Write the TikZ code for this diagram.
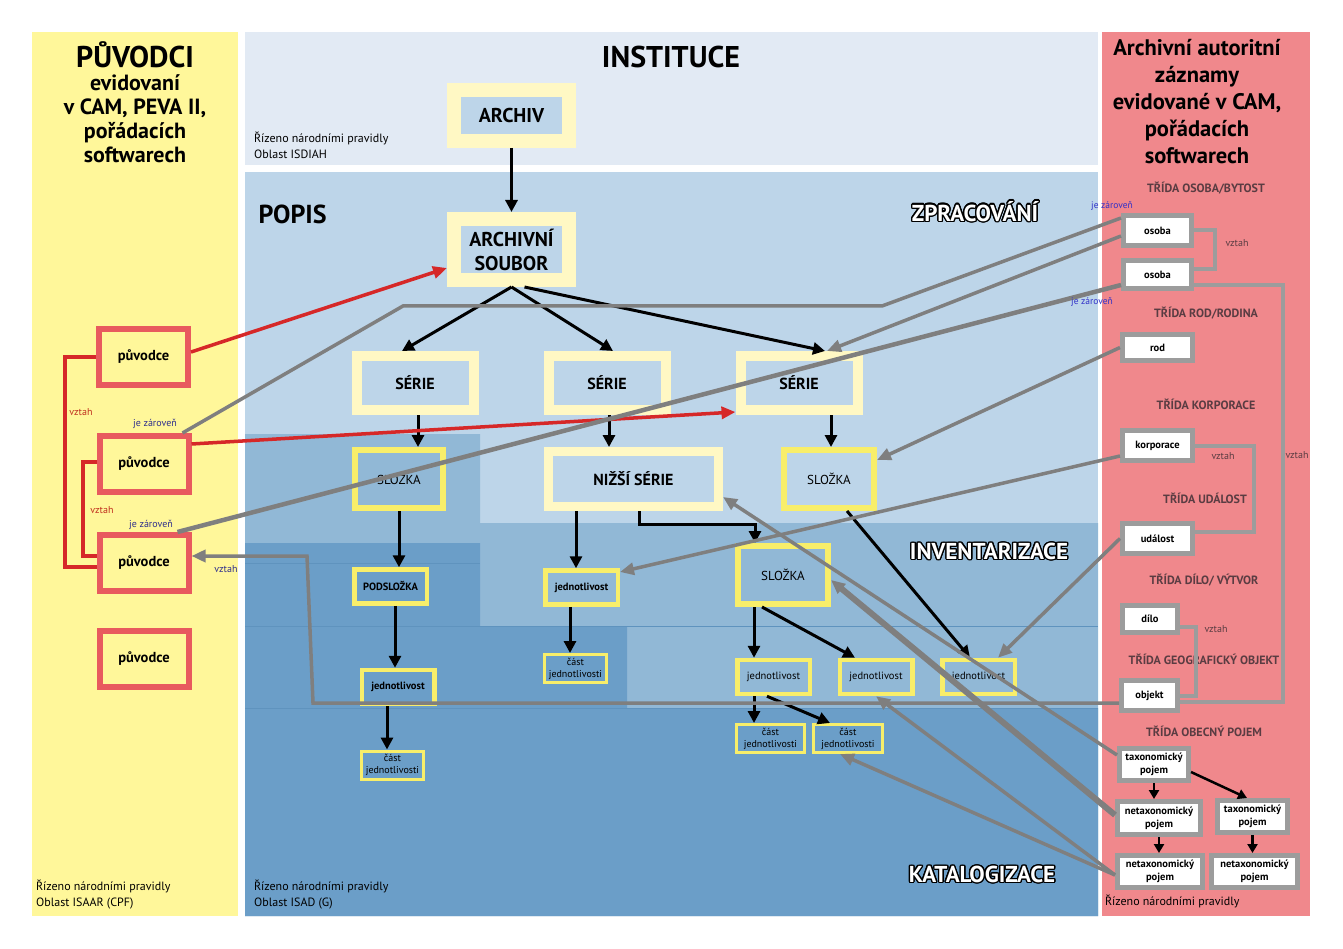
\documentclass[tikz,border=0pt]{standalone}
\usepackage{fontspec}
\setmainfont{PT Sans}
\usepackage{contour}
\usetikzlibrary{arrows.meta}
\contourlength{1.3pt}

\definecolor{instbg}{HTML}{E2EAF4}
\definecolor{popisbg}{HTML}{BDD5E9}
\definecolor{midblue}{HTML}{91B8D6}
\definecolor{darkblue}{HTML}{6B9EC8}
\definecolor{zoneedge}{HTML}{5F93BE}
\definecolor{yellowbg}{HTML}{FFF79A}
\definecolor{pinkbg}{HTML}{F0888C}
\definecolor{cream}{HTML}{FFF8C4}
\definecolor{brightyellow}{HTML}{F8EE6A}
\definecolor{puvframe}{HTML}{E85A5E}
\definecolor{redline}{HTML}{D62828}
\definecolor{grayline}{HTML}{7F7F7F}
\definecolor{grayframe}{HTML}{9C9C9C}
\definecolor{classtext}{HTML}{5A3C42}
\definecolor{relblue}{HTML}{2F2F8C}
\definecolor{isblue}{HTML}{3030C8}
\definecolor{relred}{HTML}{C0301E}

\tikzset{
  bigtitle/.style={font=\bfseries\fontsize{30}{32}\selectfont},
  subtitle/.style={font=\bfseries\fontsize{22}{24}\selectfont, align=center},
  aartitle/.style={font=\bfseries\fontsize{22.5}{27}\selectfont, align=center},
  note/.style={font=\fontsize{12}{14}\selectfont, anchor=base west, inner sep=0},
  zonelabel/.style={font=\bfseries\fontsize{23}{25}\selectfont, text=white},
  classlabel/.style={font=\bfseries\fontsize{12}{14}\selectfont, text=classtext},
  bigbox/.style={draw=cream, line width=14pt, fill=popisbg, inner sep=0,
    align=center, font=\bfseries\fontsize{20}{24}\selectfont},
  seriebox/.style={draw=cream, line width=10pt, inner sep=0,
    font=\bfseries\fontsize{16}{18}\selectfont},
  slozkabox/.style={draw=brightyellow, line width=6pt, inner sep=0,
    font=\fontsize{13}{15}\selectfont},
  itembox/.style={draw=brightyellow, line width=4.5pt, inner sep=0,
    minimum width=72.5, minimum height=34, font=\bfseries\fontsize{10.5}{12}\selectfont},
  partbox/.style={draw=brightyellow, line width=3pt, inner sep=0, align=center,
    minimum height=28, font=\fontsize{10}{12}\selectfont},
  puvbox/.style={draw=puvframe, line width=6pt, fill=yellowbg, inner sep=0,
    minimum width=89, minimum height=56, font=\bfseries\fontsize{14.5}{16}\selectfont},
  aarbox/.style={draw=grayframe, line width=5pt, fill=white, inner sep=0, align=center,
    font=\bfseries\fontsize{10.5}{13}\selectfont},
  tree/.style={draw=black, line width=3pt, -{Triangle[length=12pt,width=12pt]}},
  smalltree/.style={tree, line width=2.5pt, -{Triangle[length=9pt,width=10pt]}},
  origin/.style={draw=redline, line width=3.5pt, -{Triangle[length=14pt,width=12pt]}},
  link/.style={draw=grayline, line width=3.5pt},
  linkarrow/.style={link, -{Triangle[length=14pt,width=12pt]}},
  relation/.style={draw=grayframe, line width=4pt},
  redrelation/.style={draw=redline, line width=4pt},
  rellabel/.style={font=\fontsize{10}{12}\selectfont},
}

\begin{document}
\begin{tikzpicture}[x=1pt,y=-1pt]
	\useasboundingbox (0,0) rectangle (1343,949);
	\fill[white] (0,0) rectangle (1343,949);
	
	% panels
	\fill[yellowbg] (32,32) rectangle (238,916);
	\fill[instbg] (245,32) rectangle (1098,165);
	\fill[popisbg] (245,172) rectangle (1098,916);
	\fill[midblue] (245,434) -- (480,434) -- (480,523) -- (1098,523) -- (1098,916) -- (245,916) -- cycle;
	\fill[darkblue] (245,543) -- (480,543) -- (480,626) -- (627,626) -- (627,708) -- (1098,708) -- (1098,916) -- (245,916) -- cycle;
	\draw[zoneedge, line width=0.6pt] (245,563) -- (480,563);
	\draw[zoneedge, line width=0.6pt] (245,626) -- (1098,626);
	\draw[zoneedge, line width=0.6pt] (245,708) -- (1098,708);
	\fill[pinkbg] (1102,32) rectangle (1310,916);
	
	% titles and notes
	\node[bigtitle] (puvtitle) at (135,55) {PŮVODCI};
	\node[subtitle] (puvsub) at (135,119) {evidovaní\\v CAM, PEVA II,\\pořádacích\\softwarech};
	\node[bigtitle] (insttitle) at (671,57) {INSTITUCE};
	\node[bigtitle, font=\bfseries\fontsize{26}{28}\selectfont, anchor=west] (popistitle) at (255,214) {POPIS};
	\node[aartitle] (aarhead) at (1197,102) {Archivní autoritní\\záznamy\\evidované v CAM,\\pořádacích\\softwarech};
	\node[note] (isdiahA) at (254,143) {Řízeno národními pravidly};
	\node[note] (isdiahB) at (254,159) {Oblast ISDIAH};
	\node[note] (isaarA) at (36,890) {Řízeno národními pravidly};
	\node[note] (isaarB) at (36,906) {Oblast ISAAR (CPF)};
	\node[note] (isadA) at (254,890) {Řízeno národními pravidly};
	\node[note] (isadB) at (254,906) {Oblast ISAD (G)};
	\node[note] (aarnote) at (1105,905) {Řízeno národními pravidly};
	\node[zonelabel] (zpracovani) at (975,212) {\contour{black}{ZPRACOVÁNÍ}};
	\node[zonelabel] (inventarizace) at (989,552) {\contour{black}{INVENTARIZACE}};
	\node[zonelabel] (katalogizace) at (982,875) {\contour{black}{KATALOGIZACE}};
	
	\node[classlabel] (clsosoba) at (1206,188) {TŘÍDA OSOBA/BYTOST};
	\node[classlabel] (clsrod) at (1206,313) {TŘÍDA ROD/RODINA};
	\node[classlabel] (clskorp) at (1206,404) {TŘÍDA KORPORACE};
	\node[classlabel] (clsudal) at (1205,498) {TŘÍDA UDÁLOST};
	\node[classlabel] (clsdilo) at (1204,580) {TŘÍDA DÍLO/ VÝTVOR};
	\node[classlabel] (clsgeo) at (1204,659) {TŘÍDA GEOGRAFICKÝ OBJEKT};
	\node[classlabel] (clspojem) at (1204,731) {TŘÍDA OBECNÝ POJEM};
	
	% description units
	\node[bigbox, minimum width=115, minimum height=51] (archiv) at (511.5,115.5) {ARCHIV};
	\node[bigbox, minimum width=115, minimum height=61] (soubor) at (511.5,249.5) {ARCHIVNÍ\\SOUBOR};
	\node[seriebox, minimum width=117, minimum height=54] (serieA) at (415,383) {SÉRIE};
	\node[seriebox, minimum width=117, minimum height=54] (serieB) at (607,383) {SÉRIE};
	\node[seriebox, minimum width=117, minimum height=54] (serieC) at (799,383) {SÉRIE};
	\node[seriebox, line width=9pt, minimum width=170, minimum height=55] (nizsi) at (633.5,479) {NIŽŠÍ SÉRIE};
	\node[slozkabox, minimum width=88, minimum height=58] (slozkaA) at (399,479) {SLOŽKA};
	\node[slozkabox, minimum width=90, minimum height=58] (slozkaB) at (829,479) {SLOŽKA};
	\node[slozkabox, minimum width=90, minimum height=58] (slozkaC) at (783,575) {SLOŽKA};
	\node[itembox] (podslozka) at (390.5,586.5) {PODSLOŽKA};
	\node[itembox] (jednA) at (398,687) {jednotlivost};
	\node[itembox] (jednB) at (581.5,587.5) {jednotlivost};
	\node[itembox, font=\fontsize{10.5}{12}\selectfont] (jednC) at (773.5,677) {jednotlivost};
	\node[itembox, font=\fontsize{10.5}{12}\selectfont] (jednD) at (876,677) {jednotlivost};
	\node[itembox, font=\fontsize{10.5}{12}\selectfont] (jednE) at (978.5,677) {jednotlivost};
	\node[partbox, minimum width=62] (castA) at (392.5,765) {část\\jednotlivosti};
	\node[partbox, minimum width=62] (castB) at (575.5,668.5) {část\\jednotlivosti};
	\node[partbox, minimum width=68] (castC) at (770.5,738.5) {část\\jednotlivosti};
	\node[partbox, minimum width=69] (castD) at (848,738.5) {část\\jednotlivosti};
	
	% creators
	\node[puvbox] (puvA) at (143.5,357) {původce};
	\node[puvbox] (puvB) at (144,464) {původce};
	\node[puvbox] (puvC) at (144,563) {původce};
	\node[puvbox] (puvD) at (144,658.5) {původce};
	
	% authority records
	\node[aarbox, minimum width=68, minimum height=30] (osobaA) at (1157.5,230.5) {osoba};
	\node[aarbox, minimum width=68, minimum height=28] (osobaB) at (1157.5,274.5) {osoba};
	\node[aarbox, minimum width=70, minimum height=26] (rod) at (1157.5,347.5) {rod};
	\node[aarbox, minimum width=70, minimum height=30] (korporace) at (1157.5,445.5) {korporace};
	\node[aarbox, minimum width=70, minimum height=30] (udalost) at (1157.5,538.5) {událost};
	\node[aarbox, minimum width=55, minimum height=27] (dilo) at (1150,619) {dílo};
	\node[aarbox, minimum width=56, minimum height=30] (objekt) at (1149.5,695.5) {objekt};
	\node[aarbox, minimum width=69, minimum height=32] (taxA) at (1154,764.5) {taxonomický\\pojem};
	\node[aarbox, minimum width=83, minimum height=33] (netA) at (1159,818) {netaxonomický\\pojem};
	\node[aarbox, minimum width=70, minimum height=32] (taxB) at (1252.5,816.5) {taxonomický\\pojem};
	\node[aarbox, minimum width=85, minimum height=32] (netB) at (1160,871.5) {netaxonomický\\pojem};
	\node[aarbox, minimum width=86, minimum height=32] (netC) at (1254.5,871.5) {netaxonomický\\pojem};
	
	% hierarchy
	\path (archiv) edge[tree] (soubor);
	\path (soubor.south) edge[tree] ([xshift=-13]serieA.north);
	\path (soubor.south) edge[tree] ([xshift=6]serieB.north);
	\path ([xshift=13]soubor.south) edge[tree] ([xshift=26]serieC.north);
	\path ([xshift=3]serieA.south) edge[tree] ([xshift=19]slozkaA.north);
	\path ([xshift=2]serieB.south) edge[tree] ([xshift=-24.5]nizsi.north);
	\path ([xshift=32]serieC.south) edge[tree] ([xshift=2]slozkaB.north);
	\path (slozkaA.south) edge[tree] ([xshift=8.5]podslozka.north);
	\path ([xshift=4.5]podslozka.south) edge[tree] ([xshift=-3]jednA.north);
	\path ([xshift=-11]jednA.south) edge[tree] ([xshift=-5.5]castA.north);
	\path ([xshift=-57.5]nizsi.south) edge[tree] ([xshift=-5.5]jednB.north);
	\draw[tree] ([xshift=5.5]nizsi.south) -- ++(0,13) -| ([xshift=-28]slozkaC.north);
	\path ([xshift=-11.5]jednB.south) edge[tree] ([xshift=-5.5]castB.north);
	\path ([xshift=18]slozkaB.south) edge[tree] ([xshift=-8.5]jednE.north);
	\path ([xshift=-29]slozkaC.south) edge[tree] ([xshift=-19.5]jednC.north);
	\path ([xshift=-21]slozkaC.south) edge[tree] ([xshift=-21]jednD.north);
	\path ([xshift=-19.5]jednC.south) edge[tree] ([xshift=-16.5]castC.north);
	\path ([xshift=-6.5]jednC.south) edge[tree] ([xshift=-18]castD.north);
	
	% creators of fonds and series
	\path ([yshift=5]puvA.east) edge[origin] ([yshift=-18.5]soubor.west);
	\path ([yshift=20]puvB.east) edge[origin] ([yshift=-29]serieC.west);
	\draw[redrelation] (puvA.west) -- ++(-31,0) |- ([yshift=-4]puvC.west);
	\draw[redrelation] ([yshift=2]puvB.west) -- ++(-14,0) |- ([yshift=7]puvC.west);
	\node[rellabel, text=relred] (vztahA) at (81,412) {vztah};
	\node[rellabel, text=relred] (vztahB) at (102,510) {vztah};
	
	% links to authority records
	\coordinate (bendA) at (403,306);
	\coordinate (bendB) at (882,306);
	\coordinate (kinkA) at (313,703);
	\coordinate (kinkB) at (307,556);
	\draw[link] ([xshift=-9]puvB.north east) -- (bendA) -- (bendB) -- ([yshift=12.5]osobaA.west);
	\path ([yshift=-5.5]osobaA.west) edge[linkarrow] ([xshift=28]serieC.north);
	\path ([xshift=-14]puvC.north east) edge[link, line width=4.5pt] ([yshift=-10.5]osobaB.west);
	\path (rod.west) edge[linkarrow] ([yshift=19]slozkaB.east);
	\path ([yshift=-10.5]korporace.west) edge[linkarrow] ([yshift=15.5]jednB.east);
	\path (udalost.west) edge[linkarrow] ([xshift=19.5]jednE.north);
	\draw[linkarrow] ([yshift=-7.5]objekt.west) -- (kinkA) -- (kinkB) -- (kinkB -| puvC.east);
	\path ([yshift=9.5]taxA.west) edge[linkarrow] ([yshift=-18]nizsi.east);
	\path ([yshift=3]netA.west) edge[linkarrow, line width=6pt] ([yshift=-5]slozkaC.east);
	\path ([yshift=-3.5]netB.west) edge[linkarrow] (jednD.south);
	\path ([yshift=-3.5]netB.west) edge[linkarrow] ([xshift=-8]castD.south);
	\node[rellabel, text=relblue] (isA) at (155,424) {je zároveň};
	\node[rellabel, text=relblue] (isB) at (151,525) {je zároveň};
	\node[rellabel, text=relblue] (vztahC) at (226,569) {vztah};
	\node[rellabel, font=\fontsize{9.5}{11}\selectfont, text=isblue] (isC) at (1112,206) {je zároveň};
	\node[rellabel, font=\fontsize{9.5}{11}\selectfont, text=isblue] (isD) at (1092,302) {je zároveň};
	
	% relations between authority records
	\draw[relation] (osobaA.east) -- ++(21,0) |- ([yshift=5.5]osobaB.east);
	\draw[relation] ([yshift=-10.5]osobaB.east) -- ++(89,0) |- ([yshift=-6.5]objekt.east);
	\draw[relation] (korporace.east) -- ++(59,0) |- ([yshift=6.5]udalost.east);
	\draw[relation] ([yshift=-8]dilo.east) -- ++(16,0) |- (objekt.east);
	\node[rellabel, text=classtext] (vztahD) at (1237,243) {vztah};
	\node[rellabel, text=classtext] (vztahE) at (1297,455) {vztah};
	\node[rellabel, text=classtext] (vztahF) at (1223,456) {vztah};
	\node[rellabel, text=classtext] (vztahG) at (1216,629) {vztah};
	
	% concept hierarchy
	\path (taxA.south) edge[smalltree] (taxA.south |- netA.north);
	\path ([yshift=-7.5]taxA.east) edge[smalltree] ([xshift=-5.5]taxB.north);
	\path (netA.south) edge[smalltree] (netA.south |- netB.north);
	\path (taxB.south) edge[smalltree] (taxB.south |- netC.north);
\end{tikzpicture}
\end{document}
